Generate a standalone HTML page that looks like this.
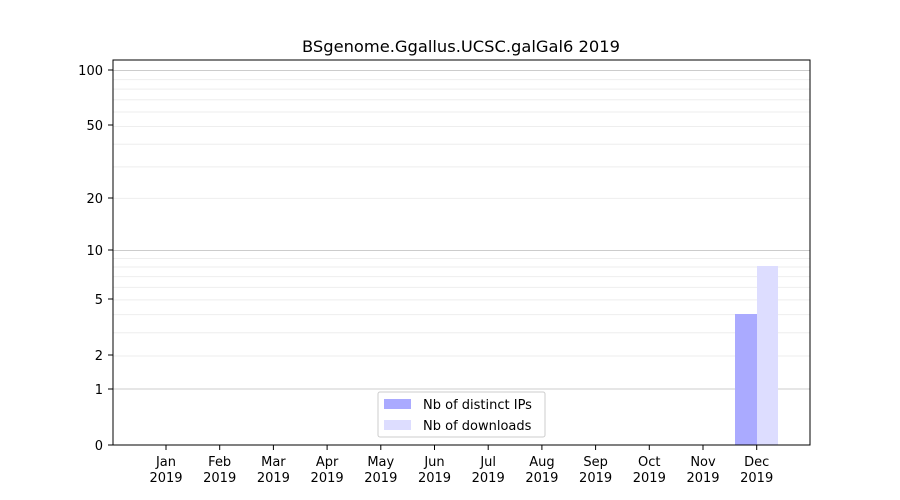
<!DOCTYPE html>
<html><head><meta charset="utf-8"><style>body{margin:0;background:#fff}svg{display:block;font-family:"DejaVu Sans","Liberation Sans",sans-serif}</style></head><body>
<svg width="900" height="500" viewBox="0 0 900 500" xmlns="http://www.w3.org/2000/svg">
<rect width="900" height="500" fill="#fff"/>
<g stroke="#eeeeee" stroke-width="1">
<line x1="113" x2="810" y1="356" y2="356"/><line x1="113" x2="810" y1="332.7" y2="332.7"/><line x1="113" x2="810" y1="314.6" y2="314.6"/><line x1="113" x2="810" y1="299.9" y2="299.9"/><line x1="113" x2="810" y1="287.4" y2="287.4"/><line x1="113" x2="810" y1="276.6" y2="276.6"/><line x1="113" x2="810" y1="267" y2="267"/><line x1="113" x2="810" y1="258.5" y2="258.5"/>
<line x1="113" x2="810" y1="198.4" y2="198.4"/><line x1="113" x2="810" y1="166.9" y2="166.9"/><line x1="113" x2="810" y1="144.2" y2="144.2"/><line x1="113" x2="810" y1="126.5" y2="126.5"/><line x1="113" x2="810" y1="112" y2="112"/><line x1="113" x2="810" y1="99.7" y2="99.7"/><line x1="113" x2="810" y1="89.1" y2="89.1"/><line x1="113" x2="810" y1="79.6" y2="79.6"/>
</g>
<g stroke="#cccccc" stroke-width="1">
<line x1="113" x2="810" y1="389" y2="389"/><line x1="113" x2="810" y1="250.5" y2="250.5"/><line x1="113" x2="810" y1="70.5" y2="70.5"/>
</g>
<text x="461" y="52" font-size="16.3" text-anchor="middle" fill="#000">BSgenome.Ggallus.UCSC.galGal6 2019</text>
<rect x="735" y="314" width="22" height="131" fill="#aaaaff"/>
<rect x="757" y="266" width="21" height="179" fill="#ddddff"/>
<rect x="113" y="60" width="697" height="385" fill="none" stroke="#000" stroke-width="1"/>
<g font-size="13" fill="#000" text-anchor="end">
<text x="103" y="75">100</text><text x="103" y="130">50</text><text x="103" y="203">20</text><text x="103" y="255">10</text><text x="103" y="304">5</text><text x="103" y="360">2</text><text x="103" y="394">1</text><text x="103" y="450">0</text>
</g>
<g stroke="#000"><line x1="108" x2="113" y1="70" y2="70"/><line x1="108" x2="113" y1="125" y2="125"/><line x1="108" x2="113" y1="198" y2="198"/><line x1="108" x2="113" y1="250" y2="250"/><line x1="108" x2="113" y1="299" y2="299"/><line x1="108" x2="113" y1="355" y2="355"/><line x1="108" x2="113" y1="389" y2="389"/><line x1="108" x2="113" y1="445" y2="445"/></g>
<g font-size="13" text-anchor="middle" fill="#000">
<text x="166" y="466">Jan</text><text x="166" y="482">2019</text>
<text x="219.7" y="466">Feb</text><text x="219.7" y="482">2019</text>
<text x="273.4" y="466">Mar</text><text x="273.4" y="482">2019</text>
<text x="327.1" y="466">Apr</text><text x="327.1" y="482">2019</text>
<text x="380.8" y="466">May</text><text x="380.8" y="482">2019</text>
<text x="434.5" y="466">Jun</text><text x="434.5" y="482">2019</text>
<text x="488.2" y="466">Jul</text><text x="488.2" y="482">2019</text>
<text x="541.9" y="466">Aug</text><text x="541.9" y="482">2019</text>
<text x="595.6" y="466">Sep</text><text x="595.6" y="482">2019</text>
<text x="649.3" y="466">Oct</text><text x="649.3" y="482">2019</text>
<text x="703" y="466">Nov</text><text x="703" y="482">2019</text>
<text x="756.7" y="466">Dec</text><text x="756.7" y="482">2019</text>
</g>
<g stroke="#000">
<line x1="166" x2="166" y1="445" y2="450"/><line x1="219.7" x2="219.7" y1="445" y2="450"/><line x1="273.4" x2="273.4" y1="445" y2="450"/><line x1="327.1" x2="327.1" y1="445" y2="450"/><line x1="380.8" x2="380.8" y1="445" y2="450"/><line x1="434.5" x2="434.5" y1="445" y2="450"/><line x1="488.2" x2="488.2" y1="445" y2="450"/><line x1="541.9" x2="541.9" y1="445" y2="450"/><line x1="595.6" x2="595.6" y1="445" y2="450"/><line x1="649.3" x2="649.3" y1="445" y2="450"/><line x1="703" x2="703" y1="445" y2="450"/><line x1="756.7" x2="756.7" y1="445" y2="450"/>
</g>
<rect x="378" y="392" width="167" height="45" fill="#fff" fill-opacity="0.8" stroke="#ccc" rx="2"/>
<rect x="384" y="399" width="27" height="10" fill="#aaaaff"/>
<rect x="384" y="420" width="27" height="10" fill="#ddddff"/>
<text x="423" y="409" font-size="13">Nb of distinct IPs</text>
<text x="423" y="430" font-size="13">Nb of downloads</text>
</svg>
</body></html>
